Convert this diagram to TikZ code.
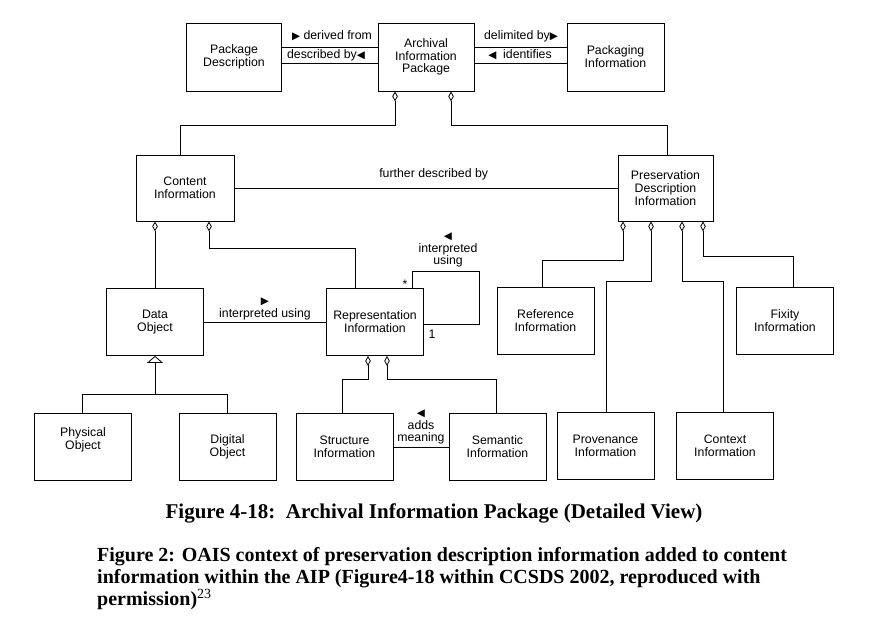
\documentclass[tikz,border=0pt]{standalone}
\usepackage{fontspec}
\setmainfont{Liberation Sans}
\newfontfamily\capfont{Liberation Serif}
\newfontfamily\symfont{DejaVu Sans}
\usetikzlibrary{arrows.meta}

\newcommand{\rtri}{{\symfont\fontsize{10.5}{10}\selectfont ▶}}
\newcommand{\ltri}{{\symfont\fontsize{10.5}{10}\selectfont ◀}}

\tikzset{
  box/.style={draw, line width=0.8pt, minimum width=97pt, minimum height=67pt,
    align=center, inner sep=1pt, font=\fontsize{12.3}{12.8}\selectfont},
  lbl/.style={align=center, inner sep=1pt, font=\fontsize{12.3}{12.8}\selectfont},
  link/.style={line width=0.8pt},
  agg/.style={link, {Diamond[open,length=10pt,width=5.5pt]}-},
  gen/.style={link, -{Triangle[open,length=7pt,width=16pt]}},
}

\begin{document}
\begin{tikzpicture}[x=1pt,y=-1pt]
    \useasboundingbox (0,0) rectangle (872,620);

    % top row
    \node[box, minimum width=95pt, minimum height=68pt] (pkgdesc) at (234,57) {Package\\Description};
    \node[box, minimum width=96pt, minimum height=68pt] (aip) at (426,57) {Archival\\Information\\Package};
    \node[box, minimum width=97pt, minimum height=68pt] (pkginfo) at (615.5,57) {Packaging\\Information};

    % second row
    \node[box, minimum width=98pt, minimum height=66pt] (content) at (185,188) {Content\\Information};
    \node[box, minimum width=95pt, minimum height=66pt] (pdi) at (665.5,188) {Preservation\\Description\\Information};

    % third row
    \node[box] (dataobj) at (155,322) {Data\\Object};
    \node[box] (repinfo) at (375,322) {Representation\\Information};
    \node[box] (refinfo) at (545.5,321) {Reference\\Information};
    \node[box] (fixity) at (785,321) {Fixity\\Information};

    % bottom row
    \node[box] (physobj) at (83,447) {Physical\\Object\\[4pt]};
    \node[box] (digobj) at (227.5,447) {Digital\\Object};
    \node[box] (structinfo) at (344.5,447) {Structure\\Information};
    \node[box] (seminfo) at (497.5,447) {Semantic\\Information};
    \node[box] (provinfo) at (605.5,446) {Provenance\\Information};
    \node[box] (ctxinfo) at (725,446) {Context\\Information};

    % AIP associations
    \draw[link] ([yshift=10pt]pkgdesc.east) -- ([yshift=10pt]aip.west);
    \draw[link] ([yshift=-6pt]pkgdesc.east) -- ([yshift=-6pt]aip.west);
    \draw[link] ([yshift=10pt]aip.east) -- ([yshift=10pt]pkginfo.west);
    \draw[link] ([yshift=-6pt]aip.east) -- ([yshift=-6pt]pkginfo.west);
    \node[lbl] (lderiv) at (332,36) {\rtri\ derived from};
    \node[lbl] (ldescr) at (326,55) {described by\ltri};
    \node[lbl] (ldelim) at (521,36) {delimited by\rtri};
    \node[lbl] (lident) at (520,55) {\ltri\ \ identifies};

    % AIP aggregates
    \draw[agg] ([xshift=-31pt]aip.south) -- ++(0,34) -| ([xshift=-5pt]content.north);
    \draw[agg] ([xshift=25pt]aip.south) -- ++(0,34) -| ([xshift=1.5pt]pdi.north);
    \draw[link] (content.east) -- (pdi.west)
        node[lbl, pos=0.52, above=7pt] (lfurther) {further described by};

    % content information
    \draw[agg] ([xshift=-30pt]content.south) -- (dataobj.north);
    \draw[agg] ([xshift=24pt]content.south) -- ++(0,27) -| ([xshift=-20pt]repinfo.north);
    \draw[link] (dataobj.east) -- (repinfo.west)
        node[lbl, midway, above=1pt] (linterp) {\rtri\\interpreted using};

    % self association
    \draw[link] ([xshift=37pt]repinfo.north) -- ++(0,-17) -| ([xshift=55pt,yshift=-2pt]repinfo.east)
        -- ([yshift=-2pt]repinfo.east);
    \node[lbl] (lself) at (448,250) {\ltri\\interpreted\\using};
    \node[lbl] (mstar) at (405,284) {*};
    \node[lbl] (mone) at (432,334) {1};

    % generalisation
    \coordinate (genj) at ([yshift=-38pt]dataobj.south);
    \draw[gen] (genj) -- (dataobj.south);
    \draw[link] ([xshift=-1pt]physobj.north) |- (genj) -| (digobj.north);

    % representation parts
    \draw[agg] ([xshift=-7pt]repinfo.south) -- ++(0,23.5) -| ([xshift=-2.5pt]structinfo.north);
    \draw[agg] ([xshift=12pt]repinfo.south) -- ++(0,23.5) -| ([xshift=-1.5pt]seminfo.north);
    \draw[link] (structinfo.east) -- (seminfo.west);
    \node[lbl] (ladds) at (421,427) {\ltri\\adds\\meaning};

    % PDI parts
    \draw[agg] ([xshift=-42.5pt]pdi.south) -- ++(0,39) -| ([xshift=-3.5pt]refinfo.north);
    \draw[agg] ([xshift=-14.5pt]pdi.south) -- ++(0,60) -| ([xshift=0.5pt]provinfo.north);
    \draw[agg] ([xshift=16.5pt]pdi.south) -- ++(0,60) -| ([xshift=-2pt]ctxinfo.north);
    \draw[agg] ([xshift=37.5pt]pdi.south) -- ++(0,35) -| ([xshift=8pt]fixity.north);

    % captions
    \node[font=\capfont\bfseries\fontsize{21}{24}\selectfont] (cap1) at (434,513)
        {Figure 4-18:\ \ Archival Information Package (Detailed View)};
    \node[font=\capfont\bfseries\fontsize{20}{22}\selectfont, align=left, anchor=west, inner sep=0pt] (cap2) at (97,579)
        {Figure 2: OAIS context of preservation description information added to content\\
         information within the AIP (Figure4-18 within CCSDS 2002, reproduced with\\
         permission)\textsuperscript{\mdseries 23}};
\end{tikzpicture}
\end{document}
